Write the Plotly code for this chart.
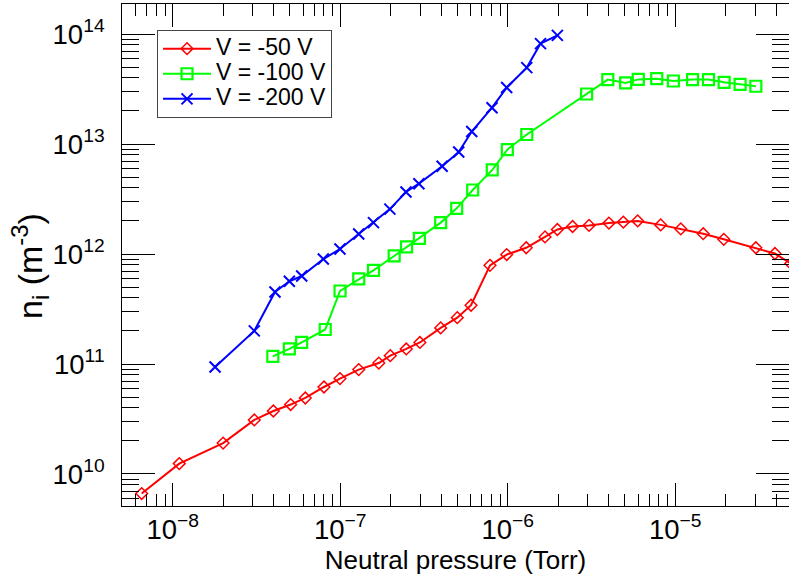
import plotly.graph_objects as go

# V = -50 V
p50 = [6.53e-9, 1.094e-8, 2.0e-8, 3.07e-8, 3.99e-8, 5.06e-8, 6.19e-8, 8.0e-8, 9.97e-8,
       1.29e-7, 1.70e-7, 1.99e-7, 2.48e-7, 2.99e-7, 3.98e-7, 5.0e-7, 6.04e-7, 7.84e-7,
       9.86e-7, 1.29e-6, 1.67e-6, 1.98e-6, 2.44e-6, 3.06e-6, 4.02e-6, 4.90e-6, 5.97e-6,
       8.19e-6, 1.08e-5, 1.47e-5, 1.95e-5, 3.03e-5, 3.94e-5, 4.9e-5]
n50 = [6.64e9, 1.243e10, 1.91e10, 3.10e10, 3.74e10, 4.28e10, 4.91e10, 6.18e10, 7.37e10,
       8.9e10, 1.02e11, 1.19e11, 1.37e11, 1.57e11, 2.13e11, 2.64e11, 3.42e11, 7.89e11,
       9.89e11, 1.14e12, 1.43e12, 1.67e12, 1.78e12, 1.82e12, 1.91e12, 1.95e12, 2.0e12,
       1.84e12, 1.69e12, 1.53e12, 1.36e12, 1.14e12, 1.01e12, 8.2e11]

# V = -100 V
p100 = [3.96e-8, 4.97e-8, 5.89e-8, 8.14e-8, 9.98e-8, 1.29e-7, 1.58e-7, 2.10e-7, 2.49e-7,
        2.97e-7, 3.98e-7, 4.96e-7, 6.18e-7, 8.09e-7, 9.95e-7, 1.30e-6, 2.96e-6, 3.96e-6,
        5.06e-6, 6.02e-6, 7.76e-6, 9.75e-6, 1.27e-5, 1.58e-5, 1.96e-5, 2.44e-5, 3.03e-5]
n100 = [1.175e11, 1.37e11, 1.57e11, 2.06e11, 4.61e11, 5.93e11, 7.11e11, 9.6e11, 1.16e12,
        1.39e12, 1.93e12, 2.60e12, 3.82e12, 5.81e12, 8.9e12, 1.22e13, 2.85e13, 3.85e13,
        3.59e13, 3.87e13, 3.93e13, 3.74e13, 3.85e13, 3.85e13, 3.64e13, 3.49e13, 3.35e13]

# V = -200 V
p200 = [1.79e-8, 3.07e-8, 4.08e-8, 4.97e-8, 5.89e-8, 7.93e-8, 9.97e-8, 1.29e-7, 1.58e-7,
        1.98e-7, 2.47e-7, 2.95e-7, 4.06e-7, 5.1e-7, 6.1e-7, 8.06e-7, 9.86e-7, 1.30e-6,
        1.57e-6, 1.98e-6]
n200 = [9.4e10, 2.0e11, 4.52e11, 5.65e11, 6.31e11, 9.0e11, 1.11e12, 1.52e12, 1.93e12,
        2.56e12, 3.66e12, 4.36e12, 6.27e12, 8.46e12, 1.30e13, 2.14e13, 3.26e13, 4.95e13,
        8.18e13, 9.72e13]

labels = ["V = -50 V", "V = -100 V", "V = -200 V"]
x_title = "Neutral pressure (Torr)"
y_title = "n<sub>i</sub> (m<sup>-3</sup>)"


def leg(t):
    return "<span style='font-size:23px'>" + t + "</span>"


fig = go.Figure()
fig.add_trace(go.Scatter(x=p50, y=n50, mode="lines+markers", name=leg(labels[0]),
                         line=dict(color="#ff0000", width=2),
                         marker=dict(symbol="diamond-open", size=9, color="#ff0000",
                                     line=dict(width=1.5, color="#ff0000"))))
fig.add_trace(go.Scatter(x=p100, y=n100, mode="lines+markers", name=leg(labels[1]),
                         line=dict(color="#00ff00", width=2),
                         marker=dict(symbol="square-open", size=11, color="#00ff00",
                                     line=dict(width=2.2, color="#00ff00"))))
fig.add_trace(go.Scatter(x=p200, y=n200, mode="lines+markers", name=leg(labels[2]),
                         line=dict(color="#0000ff", width=2),
                         marker=dict(symbol="x-thin", size=11, color="#0000ff",
                                     line=dict(width=2, color="#0000ff"))))

font = "Liberation Sans, Arial, Helvetica, sans-serif"
fig.update_layout(
    width=789, height=580,
    margin=dict(l=122, r=0, t=4, b=74),
    paper_bgcolor="white", plot_bgcolor="white",
    font=dict(family=font, color="black", size=22),
    showlegend=True,
    legend=dict(x=0.0525, y=0.948, xanchor="left", yanchor="top",
                bordercolor="#444444", borderwidth=1, bgcolor="white",
                font=dict(size=17), tracegroupgap=0, itemwidth=48),
    annotations=[dict(text=y_title, textangle=-90, xref="paper", yref="paper",
                      x=-0.138, y=0.478, xanchor="center", yanchor="middle",
                      showarrow=False, font=dict(size=34))],
)
fig.update_xaxes(type="log", range=[-8.3027, -4.3206],
                 showline=True, linecolor="black", linewidth=1, mirror="allticks",
                 ticks="inside", ticklen=23, tickcolor="black", tickwidth=1,
                 dtick=1, exponentformat="power", showgrid=False, zeroline=False,
                 minor=dict(ticks="inside", ticklen=12, tickcolor="black", dtick="D1",
                            showgrid=False),
                 tickfont=dict(size=22),
                 title=dict(text=x_title, font=dict(size=26), standoff=6))
fig.update_yaxes(type="log", range=[9.709, 14.273],
                 showline=True, linecolor="black", linewidth=1, mirror="allticks",
                 ticks="inside", ticklen=33, tickcolor="black", tickwidth=1,
                 dtick=1, exponentformat="power", showgrid=False, zeroline=False,
                 minor=dict(ticks="inside", ticklen=17, tickcolor="black", dtick="D1",
                            showgrid=False),
                 tickfont=dict(size=22), ticklabelstandoff=12)

fig.write_html("out.html")
